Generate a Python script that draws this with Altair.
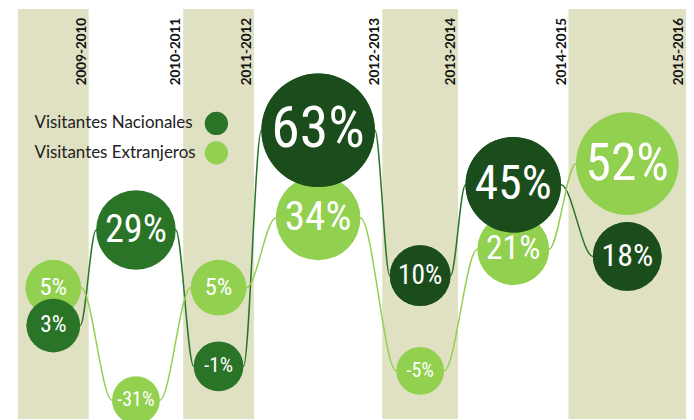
import altair as alt
import pandas as pd

# ---- data ----
periodos = ["2009-2010", "2010-2011", "2011-2012", "2012-2013",
            "2013-2014", "2014-2015", "2015-2016"]
series = ["Visitantes Nacionales", "Visitantes Extranjeros"]
nacionales = [3, 29, -1, 63, 10, 45, 18]
extranjeros = [5, -31, 5, 34, -5, 21, 52]

rows = []
for i, p in enumerate(periodos):
    rows.append({"periodo": p, "idx": i, "serie": series[0], "valor": nacionales[i]})
    rows.append({"periodo": p, "idx": i, "serie": series[1], "valor": extranjeros[i]})
df = pd.DataFrame(rows)

COL_NAC = "#2a7428"
COL_NAC_DARK = "#1b4d1c"
COL_EXT = "#92d050"
BAND = "#dfe1c2"
NUM_FONT = "Roboto Condensed, DejaVu Sans Condensed, Liberation Sans Narrow, Roboto"

xscale = alt.Scale(nice=False, zero=True)
yscale = alt.Scale(domain=[-31, -1, 3, 5, 34, 63], range=[393, 359, 318, 280, 210, 122],
                   nice=False, zero=False)
colscale = alt.Scale(domain=series, range=[COL_NAC, COL_EXT])
sizescale = alt.Scale(type="pow", exponent=2, domain=[0, 60], range=[0, 14400])

base = alt.Chart(df)

bands = base.transform_filter(
    "datum.idx % 2 == 0 && datum.serie == 'Visitantes Nacionales'"
).mark_rect(color=BAND).encode(
    x=alt.X("x0:Q", scale=xscale, axis=None),
    x2="x1:Q",
)

labels = base.transform_filter(
    "datum.serie == 'Visitantes Nacionales'"
).mark_text(angle=270, align="right", baseline="bottom", font="Lato",
            fontSize=13.5, fontWeight="bold", color="#111111").encode(
    x=alt.X("x1:Q", scale=xscale, axis=None),
    y=alt.value(9),
    text="periodo:N",
)


def line_for(serie, colour):
    return base.transform_filter(
        alt.datum.serie == serie
    ).transform_calculate(
        xa="datum.xc - datum.r", xb="datum.xc + datum.r"
    ).transform_fold(["xa", "xb"], as_=["lado", "xpos"]).mark_line(
        interpolate="monotone", strokeWidth=1.5, color=colour
    ).encode(
        x=alt.X("xpos:Q", scale=xscale, axis=None),
        y=alt.Y("valor:Q", scale=yscale, axis=None),
        order="xpos:Q",
    )


line_nac = line_for(series[0], COL_NAC)
line_ext = line_for(series[1], COL_EXT)

legend = alt.Legend(
    title=None, orient="none", legendX=-7.4, legendY=103, padding=0,
    symbolType="circle", symbolSize=548, symbolStrokeWidth=0, symbolOpacity=1,
    labelFont="Lato", labelFontSize=17, labelColor="#222222", labelLimit=400,
    labelOffset={"expr": "-194.7"}, symbolOffset=194.7, rowPadding=5.6,
)

circles = base.transform_calculate(
    capa="datum.serie == 'Visitantes Nacionales' ? 1 : 0"
).mark_circle(opacity=1).encode(
    x=alt.X("xc:Q", scale=xscale, axis=None),
    y=alt.Y("valor:Q", scale=yscale, axis=None),
    size=alt.Size("r:Q", scale=sizescale, legend=None),
    color=alt.Color("serie:N", scale=colscale, legend=legend),
    order=alt.Order("capa:Q"),
)

dark = base.transform_filter(
    "datum.serie == 'Visitantes Nacionales' && datum.idx >= 3"
).mark_circle(opacity=1, color=COL_NAC_DARK).encode(
    x=alt.X("xc:Q", scale=xscale, axis=None),
    y=alt.Y("valor:Q", scale=yscale, axis=None),
    size=alt.Size("r:Q", scale=sizescale, legend=None),
)

texts = base.mark_text(color="white", font=NUM_FONT,
                       baseline="middle", align="center").encode(
    x=alt.X("xc:Q", scale=xscale, axis=None),
    y=alt.Y("valor:Q", scale=yscale, axis=None),
    text="etiqueta:N",
    size=alt.Size("r:Q", scale=alt.Scale(domain=[24, 57], range=[20, 58]), legend=None),
)

chart = alt.layer(bands, labels, line_nac, line_ext, circles, dark, texts).transform_calculate(
    r="max(24, 25.5 + 0.5 * datum.valor)",
    etiqueta="datum.valor + '%'",
).transform_joinaggregate(
    maxr="max(r)", groupby=["periodo"]
).transform_calculate(
    hw="datum.maxr + 7.5"
).transform_window(
    x1="sum(hw)", sort=[alt.SortField("idx")], frame=[None, 0], ignorePeers=False
).transform_calculate(
    x0="datum.x1 - 2 * datum.hw", xc="datum.x1 - datum.hw"
).resolve_scale(size="independent").properties(
    width=671, height=412,
    padding={"left": 10, "right": 0, "top": 0, "bottom": 0},
    autosize=alt.AutoSizeParams(type="none"),
    background="white",
).configure_view(stroke=None)

chart.save("out.html", embed_options={"renderer": "svg", "actions": False})
